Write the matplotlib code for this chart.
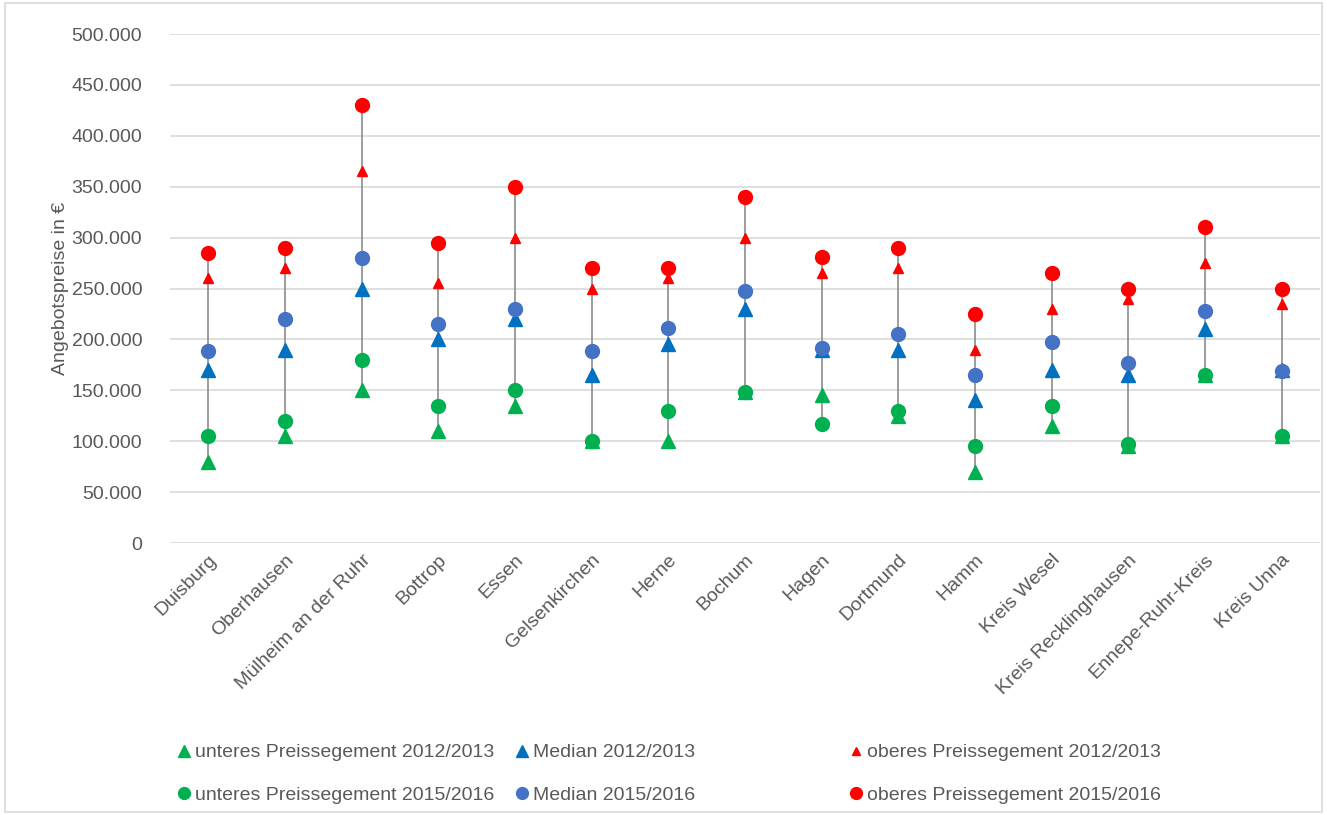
import matplotlib.pyplot as plt
from matplotlib.patches import Rectangle
from matplotlib.lines import Line2D
from matplotlib.ticker import FuncFormatter

plt.rcParams['font.family'] = ['Liberation Sans', 'DejaVu Sans']

staedte = ['Duisburg', 'Oberhausen', 'Mülheim an der Ruhr', 'Bottrop', 'Essen',
           'Gelsenkirchen', 'Herne', 'Bochum', 'Hagen', 'Dortmund', 'Hamm',
           'Kreis Wesel', 'Kreis Recklinghausen', 'Ennepe-Ruhr-Kreis', 'Kreis Unna']

# Angebotspreise in Euro
unten_1213 = [80000, 105000, 150000, 110000, 135000, 100000, 100000, 148000, 145000, 125000, 70000, 115000, 95000, 165000, 105000]
median_1213 = [170000, 190000, 250000, 200000, 220000, 165000, 195000, 230000, 190000, 190000, 140000, 170000, 165000, 210000, 170000]
oben_1213 = [260000, 270000, 365000, 255000, 300000, 250000, 260000, 300000, 265000, 270000, 190000, 230000, 240000, 275000, 235000]
unten_1516 = [105000, 120000, 180000, 135000, 150000, 100000, 130000, 148000, 117000, 130000, 95000, 135000, 97000, 165000, 105000]
median_1516 = [189000, 220000, 280000, 215000, 230000, 189000, 211000, 248000, 192000, 205000, 165000, 197000, 177000, 228000, 169000]
oben_1516 = [285000, 290000, 430000, 295000, 350000, 270000, 270000, 340000, 281000, 290000, 225000, 265000, 250000, 310000, 250000]

GRUEN = '#00B050'
BLAU_D = '#0070C0'
BLAU_H = '#4472C4'
ROT = '#FF0000'
GRAU_TXT = '#595959'

fig = plt.figure(figsize=(13.27, 8.15), dpi=100)
ax = fig.add_axes([170 / 1327, 1 - 543 / 815, 1150 / 1327, 509 / 815])

x = list(range(len(staedte)))
alle = [unten_1213, median_1213, oben_1213, unten_1516, median_1516, oben_1516]
tief = [min(v) for v in zip(*alle)]
hoch = [max(v) for v in zip(*alle)]
ax.vlines(x, tief, hoch, color='#8C8C8C', lw=1.2, zorder=2)

serien = [
    (unten_1213, '^', GRUEN, 10, 'unteres Preissegement 2012/2013'),
    (unten_1516, 'o', GRUEN, 10, 'unteres Preissegement 2015/2016'),
    (median_1213, '^', BLAU_D, 10, 'Median 2012/2013'),
    (median_1516, 'o', BLAU_H, 10, 'Median 2015/2016'),
    (oben_1213, '^', ROT, 7, 'oberes Preissegement 2012/2013'),
    (oben_1516, 'o', ROT, 10, 'oberes Preissegement 2015/2016'),
]
handles = []
for werte, m, c, ms, name in serien:
    ax.plot(x, werte, ls='none', marker=m, color=c, ms=ms, mec=c, zorder=3)
    handles.append(Line2D([], [], ls='none', marker=m, color=c, ms=ms * 0.85, label=name))

ax.set_xlim(-0.5, len(staedte) - 0.5)
ax.set_ylim(0, 500000)
ax.set_yticks(range(0, 500001, 50000))
ax.yaxis.set_major_formatter(FuncFormatter(lambda v, p: f'{int(v):,}'.replace(',', '.')))
ax.grid(axis='y', color='#D9D9D9', lw=1.2)
ax.set_axisbelow(True)
for s in ax.spines.values():
    s.set_visible(False)
ax.tick_params(length=0, labelsize=14, colors=GRAU_TXT, pad=20)
ax.tick_params(axis='x', pad=6)
ax.set_xticks(x)
ax.set_xticklabels(staedte, rotation=45, ha='right', rotation_mode='anchor')
ax.set_ylabel('Angebotspreise in €', fontsize=14, color=GRAU_TXT, labelpad=2)

# Legende in drei Spalten
spalten_x = [170 / 1327, 508 / 1327, 842 / 1327]
for i, sx in enumerate(spalten_x):
    fig.legend(handles=handles[2 * i:2 * i + 2], loc='upper left',
               bbox_to_anchor=(sx, 1 - 736 / 815), frameon=False, fontsize=14,
               labelcolor=GRAU_TXT, handlelength=0.6, handletextpad=0.3,
               labelspacing=1.3, borderaxespad=0)

fig.patches.append(Rectangle((5 / 1327, 3 / 815), 1317 / 1327, 809 / 815,
                             transform=fig.transFigure, fill=False,
                             ec='#D9D9D9', lw=1.2))

fig.savefig('out.png', dpi=100)
